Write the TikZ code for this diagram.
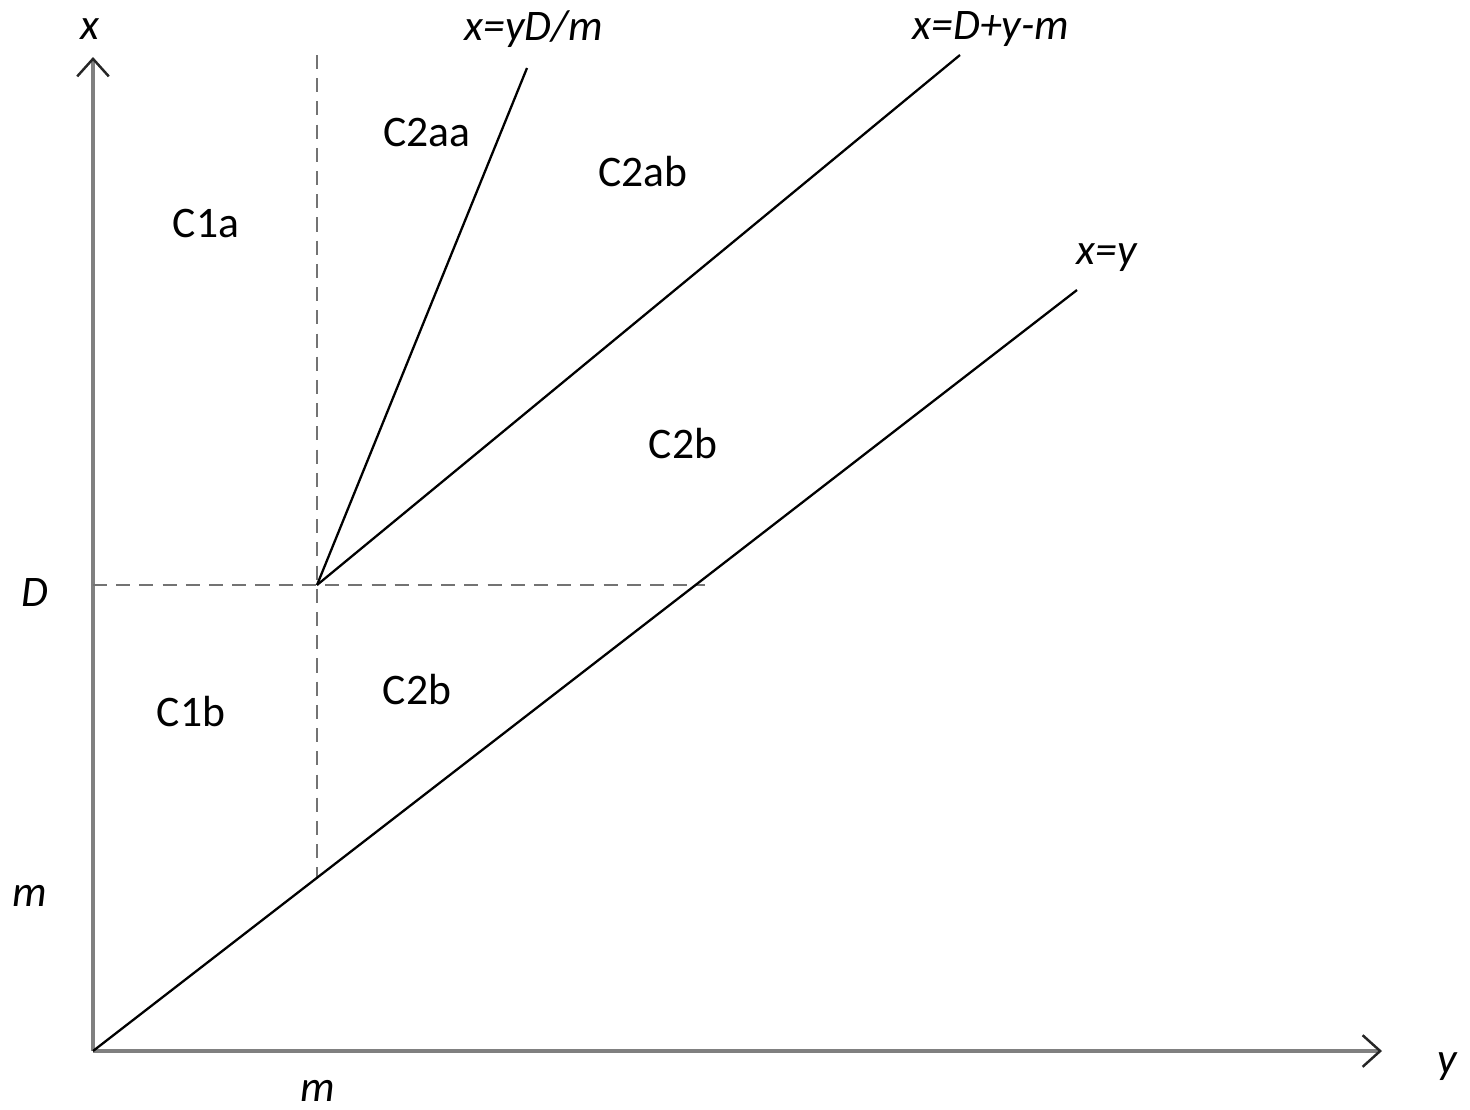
\documentclass[tikz,border=0pt]{standalone}
\usepackage{fontspec}
\setmainfont{Carlito}
\usetikzlibrary{arrows.meta}

\begin{document}
\begin{tikzpicture}[
                  x=0.01cm, y=-0.01cm,
                  every node/.style={font=\fontsize{12.4}{14}\selectfont, inner sep=0pt},
                  axis/.style={draw=black!50, line width=0.9pt,
                              -{Straight Barb[length=5pt, width=9pt, color=black!85, line width=0.7pt]}},
                  guide/.style={draw=black!55, line width=0.75pt, dash pattern=on 4pt off 2.6pt},
                  bound/.style={draw=black, line width=0.65pt},
                  eqn/.style={font=\fontsize{12.4}{14}\selectfont\itshape},
            ]
            \useasboundingbox (0,0) rectangle (1470,1109);
            % axes
            \coordinate (O) at (93,1051);
            \coordinate (xtop) at (93,57);
            \coordinate (yend) at (1382,1051);
            \draw[axis] (O) -- (xtop);
            \draw[axis] (O) -- (yend);
            \node[eqn] (xlab) at (90,29) {x};
            \node[eqn] (ylab) at (1447,1067) {y};
            % corner point (m, D)
            \coordinate (P) at (317,585);
            \coordinate (vtop) at (317,55);
            \coordinate (vbot) at (317,879);
            \coordinate (hleft) at (93,585);
            \coordinate (hright) at (705,585);
            \draw[guide] (vtop) -- (vbot);
            \draw[guide] (hleft) -- (hright);
            % boundaries
            \coordinate (diagend) at (1077,290);
            \coordinate (rayend) at (527,68);
            \coordinate (shiftend) at (960,55);
            \draw[bound] (O) -- (diagend);
            \draw[bound] (P) -- (rayend);
            \draw[bound] (P) -- (shiftend);
            \node[eqn] (raylab) at (534,29) {x=yD/m};
            \node[eqn] (shiftlab) at (991,29) {x=D+y-m};
            \node[eqn] (diaglab) at (1107,258) {x=y};
            % tick labels
            \node[eqn] (Dlab) at (35,593) {D};
            \node[eqn] (mxlab) at (30,896) {m};
            \node[eqn] (mylab) at (318,1091) {m};
            % regions
            \node (c1a) at (206,224) {C1a};
            \node (c2aa) at (427,133) {C2aa};
            \node (c2ab) at (643,172) {C2ab};
            \node (c2bup) at (683,444) {C2b};
            \node (c1b) at (191,711) {C1b};
            \node (c2blow) at (417,689) {C2b};
      \end{tikzpicture}
\end{document}
